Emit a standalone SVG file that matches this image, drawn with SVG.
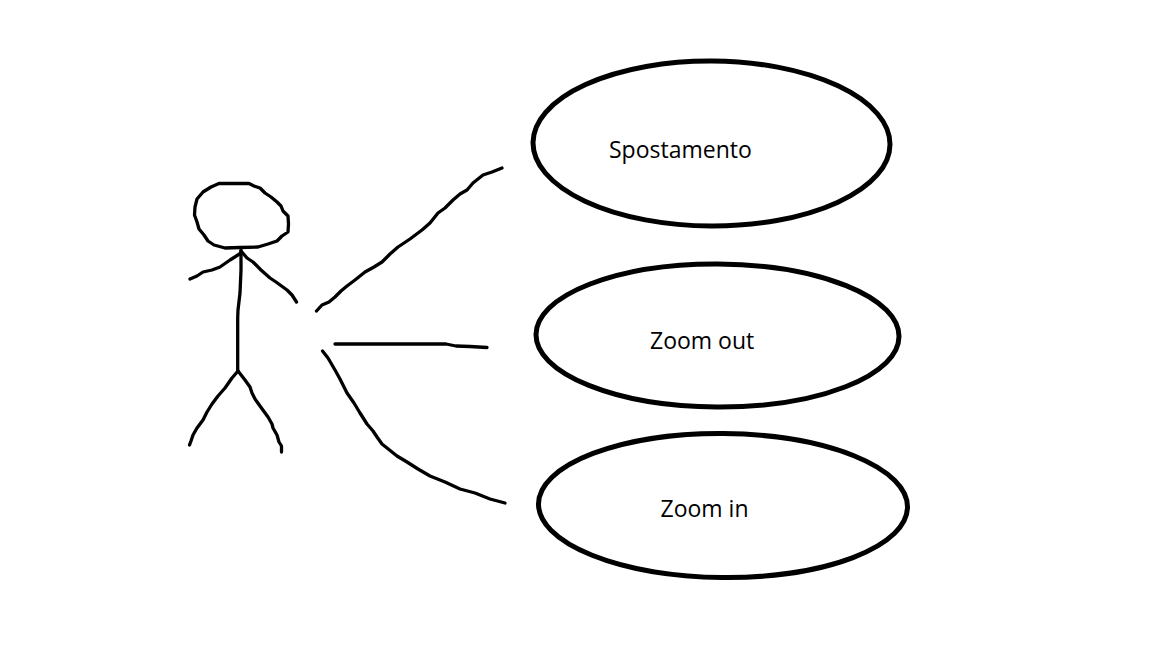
<svg xmlns="http://www.w3.org/2000/svg" width="1152" height="648" viewBox="0 0 1152 648">
<style>
.s{fill:none;stroke:#000;stroke-width:3.300;stroke-linejoin:round;stroke-linecap:round}
.e{fill:#fff;stroke:#000;stroke-width:5}
.t{font-family:"Open Sans","Noto Sans","Liberation Sans",sans-serif;font-size:23px;fill:#000}
</style>
<rect width="1152" height="648" fill="#fff"/>
<g id="actor">
<path class="s" d="M219 183.500L249 183.500L254 186L260 188L265 193L271 197L277 202L281 206L283 211L288 216L288.500 224L288 232L282 236L277 241L268 244L258 247L240 247.500L225 248L214 245L208 241L204 235L199 229L197 222L194.500 215L195 207L197 199L203 192L211 187Z"/>
<path class="s" d="M241 250L241 270L240 293L238 310L237.700 318L237.700 345L237.700 371"/>
<path class="s" d="M241 253L230 260L220 267L212 270L203 272L197 276L190 279"/>
<path class="s" d="M241 251L247 258L253 262L261 270L270 278L276 282L287 290L292 295L296.500 302"/>
<path class="s" d="M238 371L232 378L225 388L218 396L212 404L207 412L203 420L197 428L193 435L191 441L189.500 445"/>
<path class="s" d="M238 371L245 380L250 387L252 393L255 399L260 406L268 417L272 424L273 428L277 435L279 442L281.500 446L281.500 452"/>
</g>
<g id="connectors">
<path class="s" d="M316.500 311L322 305L329 302L335 297L341 291L347 286L355 280L365 272L374 267L382 262L390 254L398 247L410 239L422 230L430 223L438 213L445 208L453 200L460 194L467 190L473 183L483 175L492 172L502 168"/>
<path class="s" d="M335 344L446 344L456 346L470 346.500L487 347.500"/>
<path class="s" d="M322.500 351L328 358L335 370L340 379L347 393L354 403L360 413L367 424L373 431L377 437L382 444L387 448L397 456L407 462L418 469L430 476L445 482L460 489L475 493L490 499L505 503"/>
</g>
<g id="spostamento">
<ellipse class="e" cx="711.500" cy="143.500" rx="178.500" ry="82.500" transform="rotate(0.300 711.500 143.500)"/>
<text class="t" x="609" y="158">Spostamento</text>
</g>
<g id="zoom-out">
<ellipse class="e" cx="717.500" cy="335.500" rx="181.500" ry="71.500" transform="rotate(0.300 717.500 335.500)"/>
<text class="t" x="650" y="349">Zoom out</text>
</g>
<g id="zoom-in">
<ellipse class="e" cx="723" cy="505.500" rx="184.500" ry="72" transform="rotate(0.500 723 505.500)"/>
<text class="t" x="660.500" y="517">Zoom in</text>
</g>
</svg>
